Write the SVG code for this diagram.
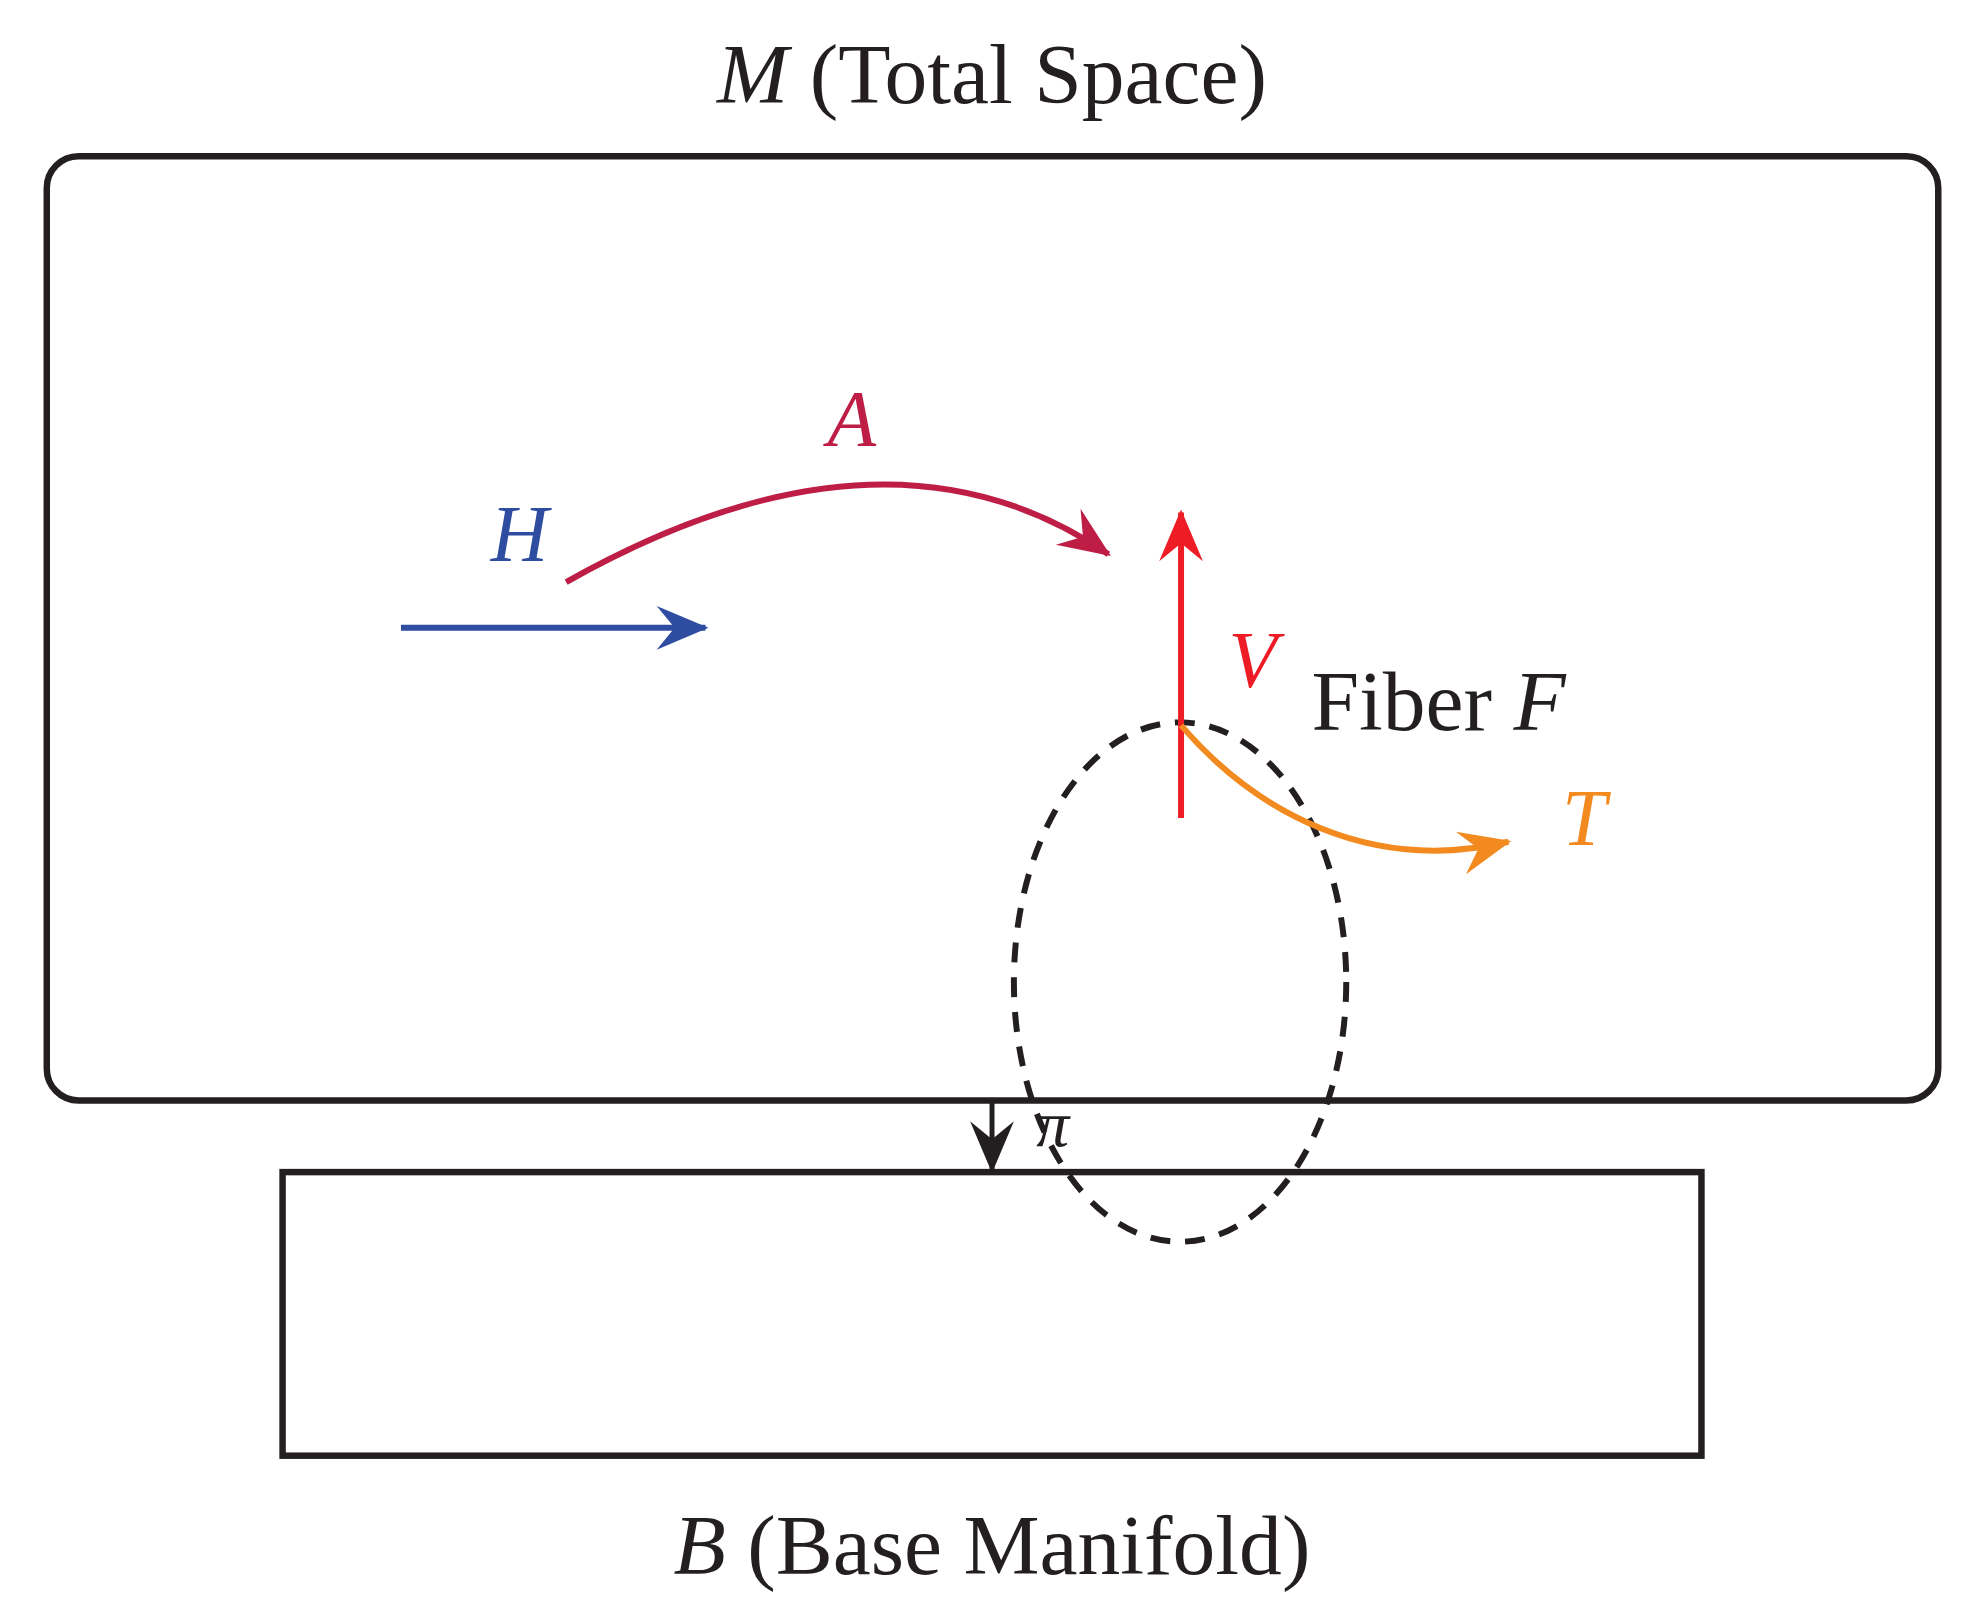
<svg xmlns="http://www.w3.org/2000/svg" width="1986" height="1615" viewBox="0 0 1986 1615">
<style>
text{font-family:"Liberation Serif","DejaVu Serif",serif;fill:#231f20}
.it{font-style:italic}
.big{font-size:86px}
.lab{font-size:80px}
</style>
<defs>
<marker id="mb" viewBox="0 0 10 10" refX="9" refY="5" markerWidth="10" markerHeight="10" markerUnits="userSpaceOnUse" orient="auto" style="overflow:visible"><path d="M-40,-17 L12,5 L-40,27 L-22,5 Z" fill="#2f4da0"/></marker>
<marker id="mr" viewBox="0 0 10 10" refX="9" refY="5" markerWidth="10" markerHeight="10" markerUnits="userSpaceOnUse" orient="auto" style="overflow:visible"><path d="M-40,-17 L12,5 L-40,27 L-22,5 Z" fill="#be1e45"/></marker>
<marker id="mv" viewBox="0 0 10 10" refX="9" refY="5" markerWidth="10" markerHeight="10" markerUnits="userSpaceOnUse" orient="auto" style="overflow:visible"><path d="M-40,-17 L12,5 L-40,27 L-22,5 Z" fill="#ee1c25"/></marker>
<marker id="mo" viewBox="0 0 10 10" refX="9" refY="5" markerWidth="10" markerHeight="10" markerUnits="userSpaceOnUse" orient="auto" style="overflow:visible"><path d="M-40,-17 L12,5 L-40,27 L-22,5 Z" fill="#f28a20"/></marker>
<marker id="mk" viewBox="0 0 10 10" refX="9" refY="5" markerWidth="10" markerHeight="10" markerUnits="userSpaceOnUse" orient="auto" style="overflow:visible"><path d="M-40,-17 L12,5 L-40,27 L-22,5 Z" fill="#231f20"/></marker>
</defs>
<g transform="scale(0.995)">
<g id="total-space">
<rect x="47" y="157" width="1901" height="949" rx="32" fill="none" stroke="#231f20" stroke-width="6.5"/>
<text x="997" y="104" text-anchor="middle" class="big"><tspan class="it">M</tspan> (Total Space)</text>
</g>
<g id="base-manifold">
<rect x="284" y="1178" width="1426" height="285" fill="none" stroke="#231f20" stroke-width="6.5"/>
<text x="997" y="1582" text-anchor="middle" class="big"><tspan class="it">B</tspan> (Base Manifold)</text>
</g>
<g id="fiber">
<ellipse cx="1186" cy="987" rx="167" ry="261" fill="none" stroke="#231f20" stroke-width="6" stroke-dasharray="20 15"/>
<text x="1318" y="734" class="big">Fiber <tspan class="it">F</tspan></text>
</g>
<g id="connectors" fill="none" stroke-width="6">
<path d="M403,631 L709,631" stroke="#2f4da0" marker-end="url(#mb)"/>
<path d="M569,585 Q890,404 1114,557" stroke="#be1e45" marker-end="url(#mr)"/>
<path d="M1187,822 L1187,515" stroke="#ee1c25" marker-end="url(#mv)"/>
<path d="M1187,729 C1261,815 1376,879 1516,846" stroke="#f28a20" marker-end="url(#mo)"/>
<path d="M997,1106 L997,1176" stroke="#231f20" stroke-width="5" marker-end="url(#mk)"/>
</g>
<g id="labels">
<text x="522" y="564" text-anchor="middle" class="lab it" style="fill:#2f4da0">H</text>
<text x="856" y="448" text-anchor="middle" class="lab it" style="fill:#be1e45">A</text>
<text x="1259" y="690" text-anchor="middle" class="lab it" style="fill:#ee1c25">V</text>
<text x="1592" y="849" text-anchor="middle" class="lab it" style="fill:#f28a20">T</text>
<text x="1058" y="1152" text-anchor="middle" class="it" style="font-size:66px">π</text>
</g>
</g>
</svg>
